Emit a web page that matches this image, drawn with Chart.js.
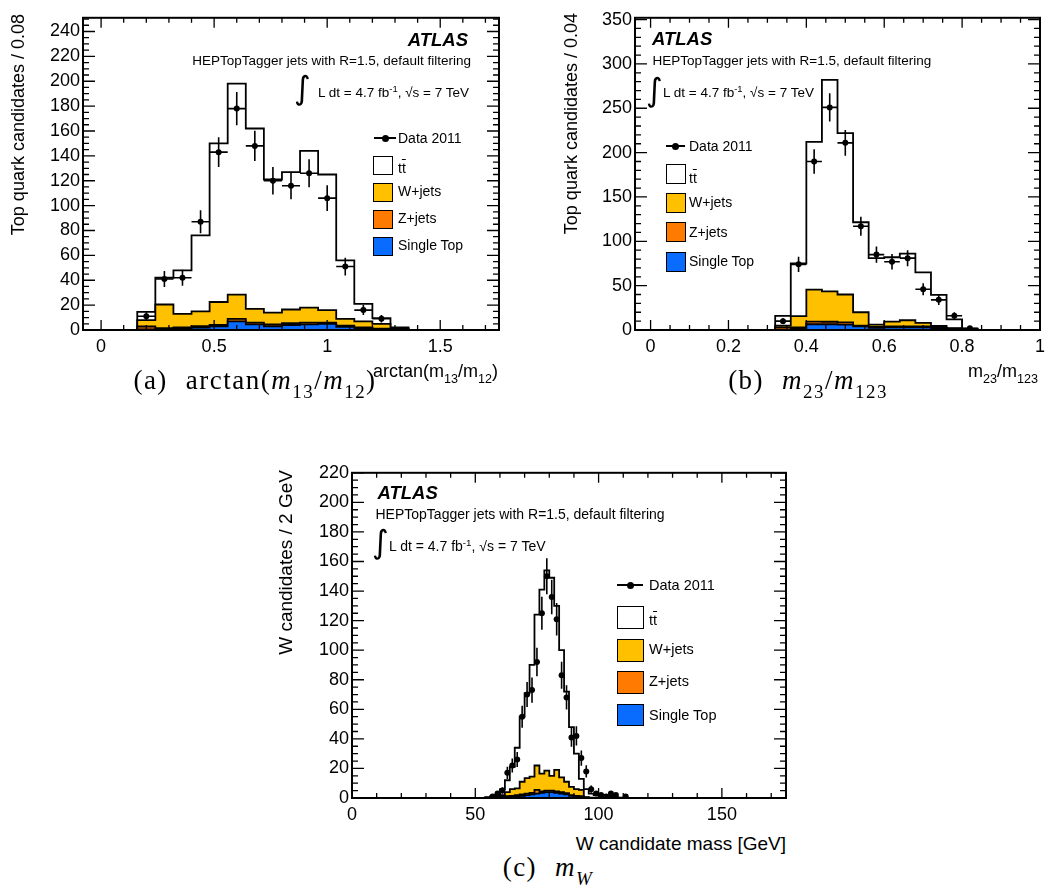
<!DOCTYPE html>
<html>
<head>
<meta charset="utf-8">
<title>HEPTopTagger substructure variables</title>
<script src="https://cdn.jsdelivr.net/npm/chart.js@4.4.1/dist/chart.umd.min.js"></script>
<style>
  body { margin: 0; background: #fff; }
  #page { position: relative; width: 1058px; height: 889px; overflow: hidden; background: #fff;
          font-family: "Liberation Sans", Arial, sans-serif; color: #000; }
  #page canvas { position: absolute; }
  .t { position: absolute; white-space: nowrap; line-height: 20px; }
  .atlas { font-weight: bold; font-style: italic; font-size: 18.5px; }
  .info { font-size: 13.5px; }
  .int { position: absolute; font-family: "DejaVu Sans", sans-serif; font-size: 32px; line-height: 36px; }
  .leg { font-size: 14px; }
  .box { position: absolute; border: 1.5px solid #000; box-sizing: border-box; }
  .dline { position: absolute; height: 1.5px; background: #000; }
  .dot { position: absolute; width: 7px; height: 7px; border-radius: 50%; background: #000; }
  .ytitle { position: absolute; width: 320px; text-align: right; transform-origin: 0 0; transform: rotate(-90deg);
            font-size: 18px; line-height: 20px; white-space: nowrap; }
  .xtitle { font-size: 18px; }
  .cap { position: absolute; width: 400px; text-align: center; font-family: "Liberation Serif", serif;
         font-size: 27px; line-height: 30px; letter-spacing: 1.5px; white-space: nowrap; }
  .cap .gap { display: inline-block; width: 18px; }
  sub { font-size: 0.7em; vertical-align: -0.45em; line-height: 0; }
  sup { font-size: 0.7em; vertical-align: 0.55em; line-height: 0; }
  .ov { text-decoration: overline; }
</style>
</head>
<body>
<div id="page">
  <canvas id="chartA" width="516" height="361" style="left:8px; top:4px;"></canvas>
  <canvas id="chartB" width="495" height="361" style="left:560px; top:4px;"></canvas>
  <canvas id="chartC" width="534" height="374" style="left:277px; top:459px;"></canvas>

  <!-- (a) -->
  <div class="t atlas" style="right:590px; top:30px;">ATLAS</div>
  <div class="t info" style="right:587px; top:51px;">HEPTopTagger jets with R=1.5, default filtering</div>
  <div class="int" style="left:294px; top:70px;">&int;</div>
  <div class="t info" style="right:589px; top:83px;">L dt = 4.7 fb<sup>-1</sup>, &radic;s = 7 TeV</div>
  <div class="dline" style="left:374px; top:137px; width:22px;"></div>
  <div class="dot" style="left:381.5px; top:134.5px;"></div>
  <div class="t leg" style="left:398px; top:128px;">Data 2011</div>
  <div class="box" style="left:373px; top:156px; width:20px; height:19px; background:#fff;"></div>
  <div class="t leg" style="left:398px; top:158px;">t<span class="ov">t</span></div>
  <div class="box" style="left:373px; top:183px; width:20px; height:19px; background:#ffc000;"></div>
  <div class="t leg" style="left:398px; top:181px;">W+jets</div>
  <div class="box" style="left:373px; top:210px; width:20px; height:19px; background:#ff7a00;"></div>
  <div class="t leg" style="left:398px; top:208px;">Z+jets</div>
  <div class="box" style="left:373px; top:237px; width:20px; height:19px; background:#0a6cff;"></div>
  <div class="t leg" style="left:398px; top:235px;">Single Top</div>
  <div class="ytitle" style="left:8px; top:334px;">Top quark candidates / 0.08</div>
  <div class="t xtitle" style="right:560px; top:361px;">arctan(m<sub>13</sub>/m<sub>12</sub>)</div>
  <div class="cap" style="left:55px; top:365px;">(a)<span class="gap"></span>arctan(<i>m</i><sub>13</sub>/<i>m</i><sub>12</sub>)</div>

  <!-- (b) -->
  <div class="t atlas" style="left:652px; top:28.5px;">ATLAS</div>
  <div class="t info" style="left:652.5px; top:51px;">HEPTopTagger jets with R=1.5, default filtering</div>
  <div class="int" style="left:646px; top:72px;">&int;</div>
  <div class="t info" style="left:663px; top:83px;">L dt = 4.7 fb<sup>-1</sup>, &radic;s = 7 TeV</div>
  <div class="dline" style="left:666px; top:145px; width:19px;"></div>
  <div class="dot" style="left:672px; top:142.5px;"></div>
  <div class="t leg" style="left:689px; top:136px;">Data 2011</div>
  <div class="box" style="left:665.5px; top:164px; width:20px; height:20px; background:#fff;"></div>
  <div class="t leg" style="left:689px; top:167.5px;">t<span class="ov">t</span></div>
  <div class="box" style="left:665.5px; top:193px; width:20px; height:20px; background:#ffc000;"></div>
  <div class="t leg" style="left:689px; top:192px;">W+jets</div>
  <div class="box" style="left:665.5px; top:222px; width:20px; height:20px; background:#ff7a00;"></div>
  <div class="t leg" style="left:689px; top:222px;">Z+jets</div>
  <div class="box" style="left:665.5px; top:251.5px; width:20px; height:20px; background:#0a6cff;"></div>
  <div class="t leg" style="left:689px; top:251px;">Single Top</div>
  <div class="ytitle" style="left:561px; top:333px;">Top quark candidates / 0.04</div>
  <div class="t xtitle" style="right:20px; top:360.5px;">m<sub>23</sub>/m<sub>123</sub></div>
  <div class="cap" style="left:608px; top:365px;">(b)<span class="gap"></span><i>m</i><sub>23</sub>/<i>m</i><sub>123</sub></div>

  <!-- (c) -->
  <div class="t atlas" style="left:377.5px; top:482.5px;">ATLAS</div>
  <div class="t info" style="left:375.5px; top:504px; font-size:14px;">HEPTopTagger jets with R=1.5, default filtering</div>
  <div class="int" style="left:372px; top:524px;">&int;</div>
  <div class="t info" style="left:389px; top:535.5px; font-size:14px;">L dt = 4.7 fb<sup>-1</sup>, &radic;s = 7 TeV</div>
  <div class="dline" style="left:617px; top:584px; width:26px;"></div>
  <div class="dot" style="left:626.5px; top:581.5px;"></div>
  <div class="t leg" style="left:649px; top:575px; font-size:14.5px;">Data 2011</div>
  <div class="box" style="left:616.5px; top:606px; width:27px; height:22.5px; background:#fff;"></div>
  <div class="t leg" style="left:649px; top:610px; font-size:14.5px;">t<span class="ov">t</span></div>
  <div class="box" style="left:616.5px; top:639px; width:27px; height:22.5px; background:#ffc000;"></div>
  <div class="t leg" style="left:649px; top:638.5px; font-size:14.5px;">W+jets</div>
  <div class="box" style="left:616.5px; top:671px; width:27px; height:22.5px; background:#ff7a00;"></div>
  <div class="t leg" style="left:649px; top:671px; font-size:14.5px;">Z+jets</div>
  <div class="box" style="left:616.5px; top:703.5px; width:27px; height:22.5px; background:#0a6cff;"></div>
  <div class="t leg" style="left:649px; top:704.5px; font-size:14.5px;">Single Top</div>
  <div class="ytitle" style="left:276px; top:790px; font-size:19px;">W candidates / 2 GeV</div>
  <div class="t xtitle" style="right:272px; top:833.5px; font-size:19px;">W candidate mass [GeV]</div>
  <div class="cap" style="left:348px; top:852px;">(c)<span class="gap"></span><i>m<sub>W</sub></i></div>
</div>

<script>
// ---------- (a) arctan(m13/m12), bins of 0.08 ----------
const aBinLow    = [0.16, 0.24, 0.32, 0.40, 0.48, 0.56, 0.64, 0.72, 0.80, 0.88, 0.96, 1.04, 1.12, 1.20, 1.28];
const aTtbar     = [6.6, 21.5, 35, 61, 127.5, 169.5, 145, 107, 110.5, 126, 109, 47, 14, 4.5, 1];
const aWjets     = [5.2, 19, 11, 12, 18.5, 19.5, 11, 9.5, 11, 12, 10, 5.5, 5, 4, 0.7];
const aZjets     = [2.3, 0.7, 0.8, 1, 1, 2, 1.5, 1.5, 1.5, 1.5, 1, 1, 0.5, 0.5, 0.1];
const aSingleTop = [0.5, 0.8, 1.2, 2, 3, 7, 4.5, 3, 4, 4.5, 5, 2.5, 1.5, 0.5, 0.2];
const aDataX     = [0.20, 0.28, 0.36, 0.44, 0.52, 0.60, 0.68, 0.76, 0.84, 0.92, 1.00, 1.08, 1.16, 1.24];
const aData      = [11, 41, 42, 87, 143, 178, 148, 120, 116, 126, 106, 51, 16, 9];
const aErr       = [3.3, 6.4, 6.5, 9.3, 12, 13.3, 12.2, 11, 10.8, 11.2, 10.3, 7.1, 4, 3];
const aXRange = [-0.08, 1.76], aYRange = [0, 251];
const aXTicks = [0, 0.5, 1, 1.5];
const aYTicks = [0, 20, 40, 60, 80, 100, 120, 140, 160, 180, 200, 220, 240];

// ---------- (b) m23/m123, bins of 0.04 ----------
const bBinLow    = [0.32, 0.36, 0.40, 0.44, 0.48, 0.52, 0.56, 0.60, 0.64, 0.68, 0.72, 0.76, 0.80];
const bTtbar     = [11, 59.4, 166.5, 238.5, 182, 101.5, 75, 72.5, 75, 57, 35, 10, 1];
const bWjets     = [2, 12.6, 36, 34.2, 31.5, 15, 2.5, 5.5, 7, 4, 1.5, 0.5, 0.1];
const bZjets     = [2.5, 1, 3, 2.8, 2.5, 1, 1, 1, 1, 1, 1, 0.5, 0.1];
const bSingleTop = [0.5, 2, 6.5, 6.5, 6, 4, 2.5, 3, 3, 3, 2, 1, 0.3];
const bDataX     = [0.34, 0.38, 0.42, 0.46, 0.50, 0.54, 0.58, 0.62, 0.66, 0.70, 0.74, 0.78, 0.82];
const bData      = [10, 74, 190, 251, 211, 117, 85, 77, 81, 46, 34, 16, 2];
const bErr       = [3.2, 8.6, 13.8, 15.8, 14.5, 10.8, 9.2, 8.8, 9, 6.8, 5.8, 4, 1.4];
const bXRange = [-0.04, 1.0], bYRange = [0, 352];
const bXTicks = [0, 0.2, 0.4, 0.6, 0.8, 1];
const bYTicks = [0, 50, 100, 150, 200, 250, 300, 350];

// ---------- (c) W candidate mass, bins of 2 GeV ----------
const cBinLow    = [54, 56, 58, 60, 62, 64, 66, 68, 70, 72, 74, 76, 78, 80, 82, 84, 86, 88, 90, 92, 94, 96, 98, 100, 102, 104, 106, 108];
const cTtbar     = [0.2, 0.5, 1, 4, 8, 15, 27.5, 44, 57.5, 75.5, 102, 124.5, 135.5, 134, 111, 86, 61, 40.5, 24, 7.5, 5.5, 2.7, 1.8, 1.5, 1, 1, 0.5, 0.3];
const cWjets     = [0.3, 0.4, 0.5, 1, 2.7, 4.5, 4.5, 8.5, 10.5, 11, 16.5, 12, 13.5, 10, 14.5, 10, 7.7, 5.5, 4.5, 4.2, 0.2, 0.3, 0.2, 0, 0, 0, 0, 0];
const cZjets     = [0, 0.1, 0.3, 0.5, 0.5, 0.5, 0.8, 1, 1, 1, 2.5, 1, 1, 1, 1, 1, 0.8, 0.5, 0.5, 0.5, 0.1, 0, 0, 0, 0, 0, 0, 0];
const cSingleTop = [0, 0, 0.2, 0.5, 0.8, 1, 1.2, 1.5, 2, 2.5, 3, 3.5, 4, 4, 3.5, 3, 2.5, 1.5, 1, 0.8, 0.2, 0, 0, 0, 0, 0, 0, 0];
const cDataX     = [57, 59, 61, 63, 65, 67, 69, 71, 73, 75, 77, 79, 81, 83, 85, 87, 89, 91, 93, 95, 97, 99, 101, 103, 105, 107, 111];
const cData      = [1, 3, 5, 17, 22, 26, 55, 70, 73, 92, 125, 150, 136, 121, 83, 68, 41, 42, 27, 18, 6, 3, 2, 1, 3, 2, 1];
const cErr       = [1, 1.7, 2.2, 4.1, 4.7, 5.1, 7.4, 8.4, 8.5, 9.6, 11.2, 12.2, 11.7, 11, 9.1, 8.2, 6.4, 6.5, 5.2, 4.2, 2.4, 1.7, 1.4, 1, 1.7, 1.4, 1];
const cXRange = [0, 176], cYRange = [0, 220];
const cXTicks = [0, 50, 100, 150];
const cYTicks = [0, 20, 40, 60, 80, 100, 120, 140, 160, 180, 200, 220];

const fillColors = ['#0a6cff', '#ff7a00', '#ffc000', '#ffffff']; // single top, Z, W, ttbar
const sampleNames = ['Single Top', 'Z+jets', 'W+jets', 'ttbar'];

// running sums, bottom of the stack first
function stackTops(parts) {
  let run = parts[0].map(() => 0);
  return parts.map(p => (run = run.map((v, i) => v + p[i])));
}

// step outline of a histogram: closed down to zero at both ends
function histPoints(lows, width, vals) {
  const pts = [{ x: lows[0], y: 0 }];
  lows.forEach((x, i) => pts.push({ x: x, y: vals[i] }));
  pts.push({ x: lows[lows.length - 1] + width, y: 0 });
  return pts;
}

// data error bars (vertical stat error, horizontal half bin)
const errorBars = {
  id: 'errorBars',
  afterDatasetsDraw(chart) {
    const ds = chart.data.datasets[0];
    const meta = chart.getDatasetMeta(0);
    const { ctx, chartArea: a, scales: { x, y } } = chart;
    ctx.save();
    ctx.beginPath();
    ctx.rect(a.left, a.top, a.right - a.left, a.bottom - a.top);
    ctx.clip();
    ctx.strokeStyle = '#000';
    ctx.lineWidth = 1.6;
    ctx.beginPath();
    meta.data.forEach((pt, i) => {
      const v = ds.data[i], e = ds.yErr[i];
      ctx.moveTo(pt.x, y.getPixelForValue(v.y - e));
      ctx.lineTo(pt.x, y.getPixelForValue(v.y + e));
      ctx.moveTo(x.getPixelForValue(v.x - ds.xHalf), pt.y);
      ctx.lineTo(x.getPixelForValue(v.x + ds.xHalf), pt.y);
    });
    ctx.stroke();
    ctx.restore();
  }
};

// ROOT style frame with inward ticks on all four sides
const rootFrame = {
  id: 'rootFrame',
  afterDraw(chart, args, o) {
    const { ctx, chartArea: a, scales: { x, y } } = chart;
    ctx.save();
    ctx.strokeStyle = '#000';
    ctx.lineWidth = 1.3;
    ctx.beginPath();
    for (let i = Math.ceil(x.min / o.xMinor - 1e-6); i * o.xMinor <= x.max + 1e-9; i++) {
      const v = i * o.xMinor;
      const major = Math.abs(v / o.xMajor - Math.round(v / o.xMajor)) < 1e-6;
      const len = major ? o.xLen : o.xLen / 2;
      const px = x.getPixelForValue(v);
      ctx.moveTo(px, a.bottom); ctx.lineTo(px, a.bottom - len);
      ctx.moveTo(px, a.top); ctx.lineTo(px, a.top + len);
    }
    for (let i = Math.ceil(y.min / o.yMinor - 1e-6); i * o.yMinor <= y.max + 1e-9; i++) {
      const v = i * o.yMinor;
      const major = Math.abs(v / o.yMajor - Math.round(v / o.yMajor)) < 1e-6;
      const len = major ? o.yLen : o.yLen / 2;
      const py = y.getPixelForValue(v);
      ctx.moveTo(a.left, py); ctx.lineTo(a.left + len, py);
      ctx.moveTo(a.right, py); ctx.lineTo(a.right - len, py);
    }
    ctx.stroke();
    ctx.lineWidth = 2;
    ctx.strokeRect(a.left, a.top, a.right - a.left, a.bottom - a.top);
    ctx.restore();
  }
};

const tickFont = { family: '"Liberation Sans", Arial, sans-serif', size: 18 };
const tickLabel = v => String(Math.round(v * 100) / 100);

function makePanel(id, p) {
  const tops = stackTops(p.parts);
  const datasets = [{
    label: 'Data 2011',
    data: p.dataX.map((x, i) => ({ x: x, y: p.data[i] })),
    showLine: false,
    pointRadius: 3,
    pointBackgroundColor: '#000',
    pointBorderWidth: 0,
    yErr: p.err,
    xHalf: p.width / 2
  }];
  tops.forEach((t, k) => datasets.push({
    label: sampleNames[k],
    data: histPoints(p.lows, p.width, t),
    stepped: true,
    fill: 'origin',
    backgroundColor: fillColors[k],
    borderColor: '#000',
    borderWidth: 1.8,
    borderJoinStyle: 'miter',
    pointRadius: 0
  }));

  return new Chart(document.getElementById(id), {
    type: 'line',
    data: { datasets },
    options: {
      responsive: false,
      animation: false,
      events: [],
      layout: { padding: { top: 10, right: p.padRight, left: 0, bottom: 0 } },
      plugins: {
        legend: { display: false },
        tooltip: { enabled: false },
        rootFrame: p.frame
      },
      scales: {
        x: {
          type: 'linear',
          min: p.xRange[0], max: p.xRange[1],
          afterBuildTicks: s => { s.ticks = p.xTicks.map(v => ({ value: v })); },
          afterFit: s => { s.height = 35; },
          grid: { display: false, drawTicks: false },
          border: { display: false },
          ticks: { autoSkip: false, maxRotation: 0, padding: 6, color: '#000', font: tickFont, callback: tickLabel }
        },
        y: {
          type: 'linear',
          min: p.yRange[0], max: p.yRange[1],
          afterBuildTicks: s => { s.ticks = p.yTicks.map(v => ({ value: v })); },
          afterFit: s => { s.width = 75; },
          grid: { display: false, drawTicks: false },
          border: { display: false },
          ticks: { autoSkip: false, padding: 3, color: '#000', font: tickFont, callback: tickLabel }
        }
      }
    },
    plugins: [errorBars, rootFrame]
  });
}

makePanel('chartA', {
  lows: aBinLow, width: 0.08,
  parts: [aSingleTop, aZjets, aWjets, aTtbar],
  dataX: aDataX, data: aData, err: aErr,
  xRange: aXRange, yRange: aYRange, xTicks: aXTicks, yTicks: aYTicks, padRight: 25,
  frame: { xMajor: 0.5, xMinor: 0.1, yMajor: 20, yMinor: 5, xLen: 10, yLen: 12 }
});

makePanel('chartB', {
  lows: bBinLow, width: 0.04,
  parts: [bSingleTop, bZjets, bWjets, bTtbar],
  dataX: bDataX, data: bData, err: bErr,
  xRange: bXRange, yRange: bYRange, xTicks: bXTicks, yTicks: bYTicks, padRight: 15,
  frame: { xMajor: 0.2, xMinor: 0.05, yMajor: 50, yMinor: 10, xLen: 10, yLen: 12 }
});

makePanel('chartC', {
  lows: cBinLow, width: 2,
  parts: [cSingleTop, cZjets, cWjets, cTtbar],
  dataX: cDataX, data: cData, err: cErr,
  xRange: cXRange, yRange: cYRange, xTicks: cXTicks, yTicks: cYTicks, padRight: 25,
  frame: { xMajor: 50, xMinor: 10, yMajor: 20, yMinor: 5, xLen: 10, yLen: 12 }
});
</script>
</body>
</html>
